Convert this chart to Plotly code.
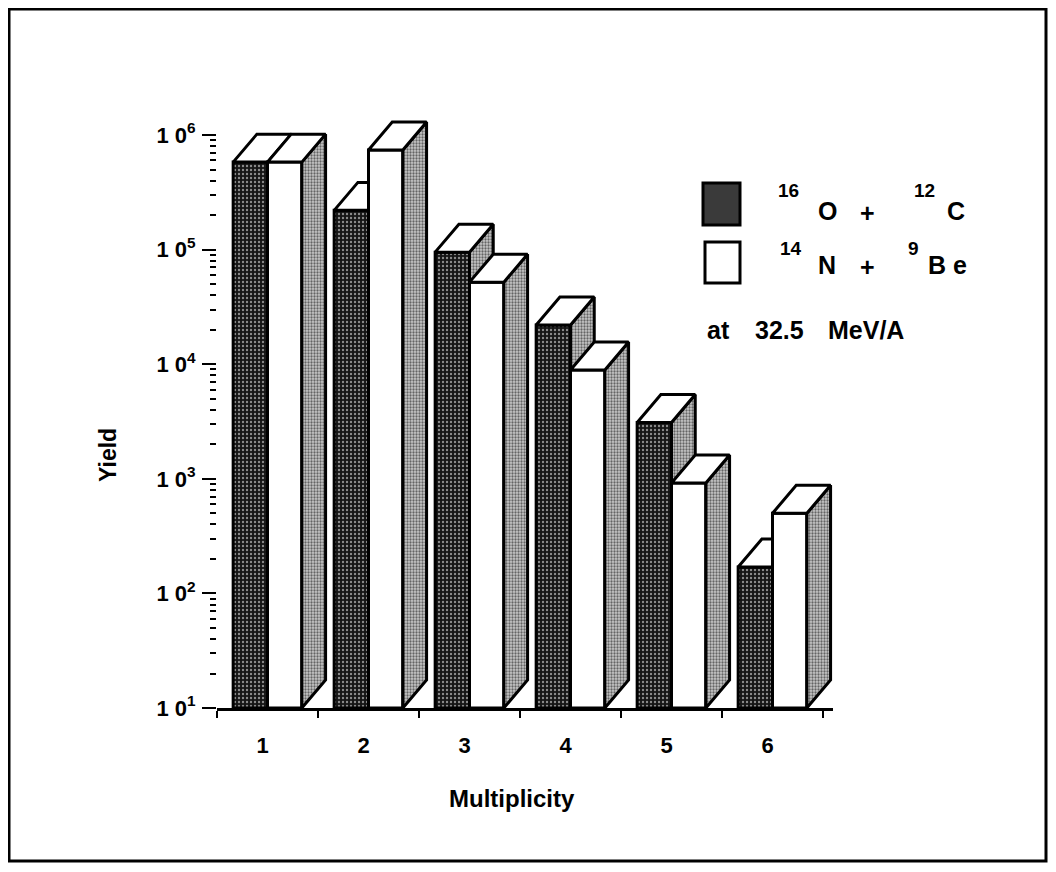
import plotly.graph_objects as go

# ---- data ----
categories = [1, 2, 3, 4, 5, 6]
cat_labels = ["1", "2", "3", "4", "5", "6"]
yield_o_c = [5.8e5, 2.2e5, 9.5e4, 2.2e4, 3.1e3, 1.7e2]     # 16O + 12C (dark)
yield_n_be = [5.8e5, 7.4e5, 5.2e4, 8.9e3, 9.2e2, 5.0e2]    # 14N + 9Be (white)
ytick_vals = [1e1, 1e2, 1e3, 1e4, 1e5, 1e6]
ytick_text = ["1 0<sup>1</sup>", "1 0<sup>2</sup>", "1 0<sup>3</sup>",
              "1 0<sup>4</sup>", "1 0<sup>5</sup>", "1 0<sup>6</sup>"]

# ---- geometry (in axis units) ----
BW = 0.34          # front face width
DX = 0.235         # depth offset in x
DK = 10 ** 0.244   # depth offset in y (multiplicative, log axis)
YMIN = 10

DARK = dict(shape=".", fgcolor="#ffffff", bgcolor="#151515", size=4, solidity=0.28)
SIDE = dict(shape=".", fgcolor="#000000", bgcolor="#c8c8c8", size=3, solidity=0.45)
LINE = dict(color="black", width=3)

fig = go.Figure()


def poly(xs, ys, fillcolor="white", pattern=None):
    kw = dict(x=xs + [xs[0]], y=ys + [ys[0]], mode="lines", fill="toself",
              fillcolor=fillcolor, line=LINE, showlegend=False, hoverinfo="skip")
    if pattern is not None:
        kw["fillpattern"] = pattern
    fig.add_trace(go.Scatter(**kw))


def bar3d(x0, v, front_pattern, front_color):
    x1 = x0 + BW
    poly([x0, x1, x1, x0], [YMIN, YMIN, v, v], fillcolor=front_color, pattern=front_pattern)
    poly([x1, x1, x1 + DX, x1 + DX], [YMIN, v, v * DK, YMIN * DK], fillcolor="#a8a8a8", pattern=SIDE)
    poly([x0, x1, x1 + DX, x0 + DX], [v, v, v * DK, v * DK], fillcolor="white")


for c, vd, vw in zip(categories, yield_o_c, yield_n_be):
    bar3d(c - BW, vd, DARK, "#151515")
    bar3d(c, vw, None, "white")

# ---- layout geometry (pixels, reference coordinates; page has 8px body margin) ----
OFF = 8
W, H = 1056 - 2 * OFF, 872 - 2 * OFF
L, R = 217, 833
T, B = 100, 708
pw, ph = R - L, B - T


def px(x):
    return (x - L) / pw


def py(y):
    return (B - y) / ph


decade_px = 114.6
ytop = 1 + ph / decade_px
xmax = 0.5 + pw / 101.0

minor_y = [m * 10 ** e for e in range(1, 6) for m in range(2, 10)]

fig.update_layout(
    width=W, height=H,
    margin=dict(l=L - OFF, r=W - (R - OFF), t=T - OFF, b=H - (B - OFF)),
    paper_bgcolor="white", plot_bgcolor="white",
    font=dict(family="Liberation Sans, Arial, sans-serif", color="black"),
    xaxis=dict(
        range=[0.5, xmax], showgrid=False, zeroline=False,
        showline=True, linecolor="black", linewidth=3,
        tickmode="array", tickvals=categories, ticktext=cat_labels,
        ticks="", tickfont=dict(size=22, weight="bold"), ticklabelshift=-5,
        ticklabelstandoff=16,
        minor=dict(tickmode="array", tickvals=[c - 0.5 for c in categories] + [6.5],
                   ticks="outside", ticklen=7, tickwidth=2, tickcolor="black"),
    ),
    yaxis=dict(
        type="log", range=[1, ytop], showgrid=False, zeroline=False, showline=False,
        tickmode="array", tickvals=ytick_vals, ticktext=ytick_text,
        ticks="outside", ticklen=14, tickwidth=2, tickcolor="black",
        tickfont=dict(size=22, weight="bold"), ticklabelstandoff=2,
        minor=dict(tickmode="array", tickvals=minor_y, ticks="outside",
                   ticklen=6, tickwidth=2, tickcolor="black"),
    ),
)

shapes = []
shapes.append(dict(type="line", xref="paper", yref="y", x0=0, x1=0, y0=1, y1=6,
                   line=dict(color="black", width=3)))
shapes.append(dict(type="rect", xref="paper", yref="paper",
                   x0=px(9), x1=px(1046), y0=py(861), y1=py(9),
                   line=dict(color="black", width=3), fillcolor="rgba(0,0,0,0)"))
shapes.append(dict(type="rect", xref="paper", yref="paper",
                   x0=px(703), x1=px(740), y0=py(225), y1=py(183),
                   line=dict(color="black", width=3), fillcolor="#3a3a3a"))
shapes.append(dict(type="rect", xref="paper", yref="paper",
                   x0=px(705), x1=px(740), y0=py(283), y1=py(242),
                   line=dict(color="black", width=3), fillcolor="white"))
fig.update_layout(shapes=shapes)

ann = []


def txt(t, x, y, size, anchor="left", angle=0):
    ann.append(dict(text=t, x=px(x), y=py(y), xref="paper", yref="paper",
                    xanchor=anchor, yanchor="middle", showarrow=False, textangle=angle,
                    font=dict(size=size, weight="bold")))


# legend line 1: 16O + 12C
txt("16", 776, 190, 19)
txt("O", 816, 211, 25)
txt("+", 858, 213, 25)
txt("12", 912, 190, 19)
txt("C", 945, 211, 25)
# legend line 2: 14N + 9Be
txt("14", 778, 248, 19)
txt("N", 816, 265, 25)
txt("+", 858, 267, 25)
txt("9", 906, 248, 19)
txt("B e", 926, 265, 25)
# energy
txt("at", 705, 330, 25)
txt("32.5", 753, 330, 25)
txt("MeV/A", 826, 330, 25)
# axis titles
txt("Yield", 108, 455, 23, anchor="center", angle=-90)
txt("Multiplicity", 512, 798, 24, anchor="center")
fig.update_layout(annotations=ann)

fig.write_html("out.html")
